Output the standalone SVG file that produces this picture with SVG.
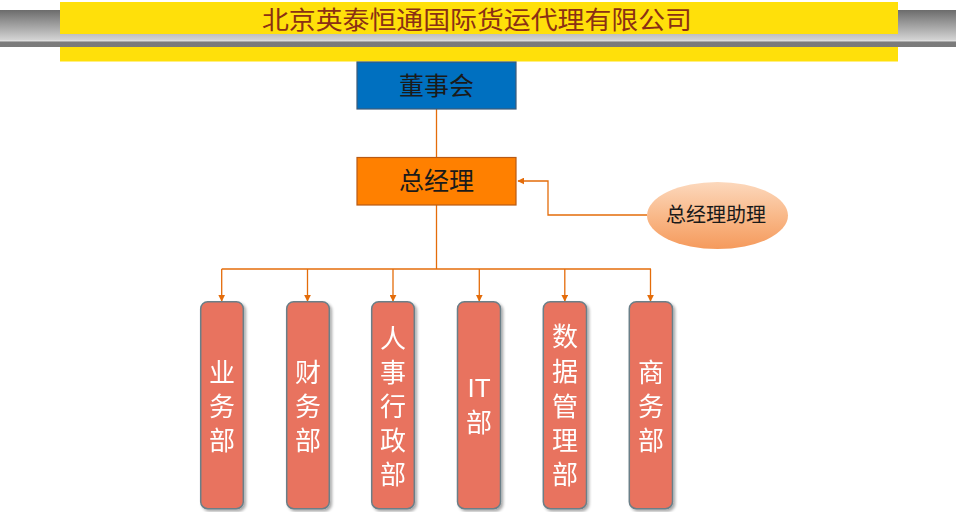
<svg xmlns="http://www.w3.org/2000/svg" width="956" height="512" viewBox="0 0 956 512">
  <defs>
    <linearGradient id="grayBar" x1="0" y1="0" x2="0" y2="1">
      <stop offset="0" stop-color="#6c6c6c"/>
      <stop offset="0.8" stop-color="#d2d2d2"/>
      <stop offset="0.84" stop-color="#e6e6e6"/>
      <stop offset="0.86" stop-color="#7c7c7c"/>
      <stop offset="1" stop-color="#7a7a7a"/>
    </linearGradient>
    <linearGradient id="ellGrad" x1="0" y1="0" x2="0" y2="1">
      <stop offset="0" stop-color="#fcd8bc"/>
      <stop offset="0.5" stop-color="#f9b98a"/>
      <stop offset="1" stop-color="#f59a5c"/>
    </linearGradient>
    <marker id="arrow" viewBox="0 0 10 10" refX="9" refY="5" markerWidth="7" markerHeight="7" markerUnits="userSpaceOnUse" orient="auto">
      <path d="M0,0 L10,5 L0,10 Z" fill="#e46c0a"/>
    </marker>
    <filter id="shadow" x="-20%" y="-5%" width="150%" height="115%">
      <feGaussianBlur in="SourceAlpha" stdDeviation="1.5"/>
      <feOffset dx="2" dy="2" result="b"/>
      <feComponentTransfer><feFuncA type="linear" slope="0.35"/></feComponentTransfer>
      <feMerge><feMergeNode/><feMergeNode in="SourceGraphic"/></feMerge>
    </filter>
  </defs>
  <style>
    .conn { fill: none; stroke: #e46c0a; stroke-width: 1.3; }
    .dept { fill: #e8735e; stroke: #6b7f88; stroke-width: 1.5; }
    .dtxt { font-family: "Noto Sans CJK SC", "Liberation Sans", sans-serif; font-size: 26px; fill: #ffffff; text-anchor: middle; }
    .ltxt { font-family: "Liberation Sans", "Noto Sans CJK SC", sans-serif; font-size: 26px; fill: #ffffff; text-anchor: middle; }
    .ntxt { font-family: "Noto Sans CJK SC", sans-serif; fill: #1a1a1a; text-anchor: middle; }
  </style>
  <rect width="956" height="512" fill="#ffffff"/>

  <g id="banner">
    <rect x="0" y="10" width="956" height="37" fill="url(#grayBar)"/>
    <rect x="60" y="2" width="838" height="32" fill="#ffe00a"/>
    <rect x="60" y="47" width="838" height="14.5" fill="#ffe00a"/>
    <text x="477" y="29" font-family="Noto Sans CJK SC, sans-serif" font-size="25" fill="#8b3014" text-anchor="middle" textLength="430" lengthAdjust="spacingAndGlyphs">北京英泰恒通国际货运代理有限公司</text>
  </g>

  <g id="connectors">
    <path class="conn" d="M436.5,109 V157"/>
    <path class="conn" d="M436.5,205 V269"/>
    <path class="conn" d="M647,215 H548 V181 H518" marker-end="url(#arrow)"/>
    <path class="conn" d="M221.7,269 H651"/>
    <path class="conn" d="M221.7,269 V301" marker-end="url(#arrow)"/>
    <path class="conn" d="M307.5,269 V301" marker-end="url(#arrow)"/>
    <path class="conn" d="M393,269 V301" marker-end="url(#arrow)"/>
    <path class="conn" d="M479.3,269 V301" marker-end="url(#arrow)"/>
    <path class="conn" d="M564.8,269 V301" marker-end="url(#arrow)"/>
    <path class="conn" d="M650.5,269 V301" marker-end="url(#arrow)"/>
  </g>

  <g id="board">
    <rect x="357" y="62" width="159" height="47" fill="#0070c0" stroke="#3d5a78" stroke-width="1.2"/>
    <text class="ntxt" x="436.5" y="95" font-size="25">董事会</text>
  </g>

  <g id="gm">
    <rect x="357" y="157.5" width="159" height="47.5" fill="#ff8000" stroke="#b85a14" stroke-width="1.2"/>
    <text class="ntxt" x="436.5" y="190" font-size="25">总经理</text>
  </g>

  <g id="assistant">
    <ellipse cx="717.5" cy="215.5" rx="70.5" ry="33.5" fill="url(#ellGrad)"/>
    <text class="ntxt" x="716" y="222" font-size="20">总经理助理</text>
  </g>

  <g id="dept-yewu" filter="url(#shadow)">
    <rect class="dept" x="200.7" y="301.7" width="42.6" height="207" rx="7"/>
    <text class="dtxt" x="222" y="382">业</text>
    <text class="dtxt" x="222" y="416">务</text>
    <text class="dtxt" x="222" y="450">部</text>
  </g>

  <g id="dept-caiwu" filter="url(#shadow)">
    <rect class="dept" x="286.7" y="301.7" width="42.6" height="207" rx="7"/>
    <text class="dtxt" x="308" y="382">财</text>
    <text class="dtxt" x="308" y="416">务</text>
    <text class="dtxt" x="308" y="450">部</text>
  </g>

  <g id="dept-renshi" filter="url(#shadow)">
    <rect class="dept" x="371.7" y="301.7" width="42.6" height="207" rx="7"/>
    <text class="dtxt" x="393" y="348">人</text>
    <text class="dtxt" x="393" y="382">事</text>
    <text class="dtxt" x="393" y="416">行</text>
    <text class="dtxt" x="393" y="450">政</text>
    <text class="dtxt" x="393" y="484">部</text>
  </g>

  <g id="dept-it" filter="url(#shadow)">
    <rect class="dept" x="457.5" y="301.7" width="43" height="207" rx="7"/>
    <text class="ltxt" x="479" y="397">IT</text>
    <text class="dtxt" x="479" y="432">部</text>
  </g>

  <g id="dept-shuju" filter="url(#shadow)">
    <rect class="dept" x="543.3" y="301.7" width="43.2" height="207" rx="7"/>
    <text class="dtxt" x="565" y="346">数</text>
    <text class="dtxt" x="565" y="381">据</text>
    <text class="dtxt" x="565" y="416">管</text>
    <text class="dtxt" x="565" y="450">理</text>
    <text class="dtxt" x="565" y="484">部</text>
  </g>

  <g id="dept-shangwu" filter="url(#shadow)">
    <rect class="dept" x="629.3" y="301.7" width="43.2" height="207" rx="7"/>
    <text class="dtxt" x="651" y="382">商</text>
    <text class="dtxt" x="651" y="416">务</text>
    <text class="dtxt" x="651" y="450">部</text>
  </g>
</svg>
